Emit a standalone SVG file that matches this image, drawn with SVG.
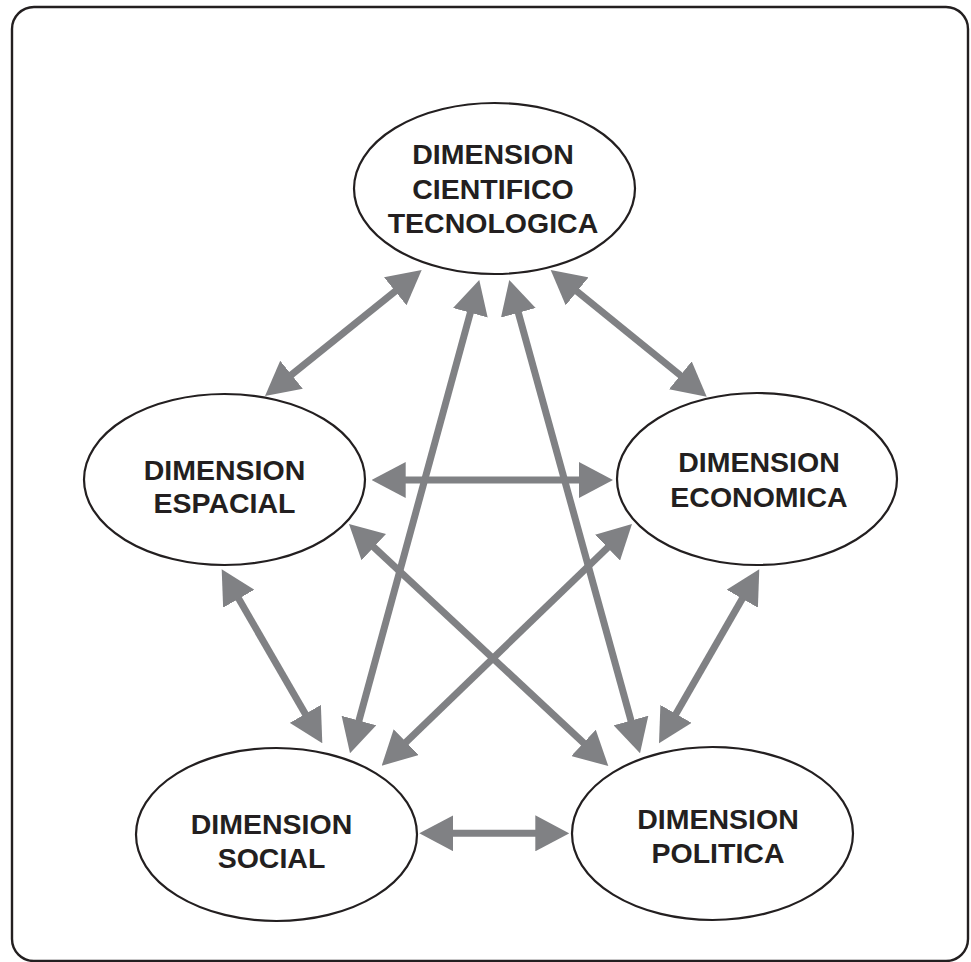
<svg xmlns="http://www.w3.org/2000/svg" width="971" height="962" viewBox="0 0 971 962">
<style>
.node ellipse{fill:#fff;stroke:#231f20;stroke-width:2.2}
.node text{font-family:"Liberation Sans",Arial,sans-serif;font-weight:bold;font-size:28.5px;fill:#231f20;text-anchor:middle}
.conn line{stroke:#808184;stroke-width:7;marker-start:url(#ah);marker-end:url(#ah)}
</style>
<defs>
<marker id="ah" markerUnits="userSpaceOnUse" markerWidth="34" markerHeight="36" viewBox="0 0 34 36" refX="14" refY="18" orient="auto-start-reverse">
<path d="M0,0 L34,18 L0,36 Z" fill="#808184"/>
</marker>
</defs>
<rect x="12" y="7" width="956" height="954" rx="22" fill="#fff" stroke="#231f20" stroke-width="2.4"/>
<g class="conn" id="connectors">
<line x1="406.1" y1="282.5" x2="280.6" y2="383.5"/>
<line x1="566.2" y1="282.6" x2="691.2" y2="384.1"/>
<line x1="474.0" y1="299.3" x2="355.3" y2="734.0"/>
<line x1="514.6" y1="299.3" x2="634.7" y2="734.0"/>
<line x1="391.7" y1="480" x2="593" y2="480"/>
<line x1="363.6" y1="537.6" x2="593.7" y2="752.4"/>
<line x1="617.6" y1="537.9" x2="396.1" y2="751.8"/>
<line x1="231.7" y1="586.6" x2="312.3" y2="726.0"/>
<line x1="749.3" y1="586.6" x2="669.0" y2="726.0"/>
<line x1="439.3" y1="833.3" x2="549.3" y2="833.3"/>
</g>
<g class="node" id="cientifico">
<ellipse cx="494.5" cy="188.5" rx="140.5" ry="85.5"/>
<text x="493" y="164">DIMENSION</text>
<text x="493" y="198.5">CIENTIFICO</text>
<text x="493" y="233">TECNOLOGICA</text>
</g>
<g class="node" id="espacial">
<ellipse cx="224.5" cy="479.5" rx="140.5" ry="85.5"/>
<text x="224.5" y="480">DIMENSION</text>
<text x="224.5" y="513">ESPACIAL</text>
</g>
<g class="node" id="economica">
<ellipse cx="757" cy="479" rx="140" ry="86"/>
<text x="759" y="472">DIMENSION</text>
<text x="759" y="507">ECONOMICA</text>
</g>
<g class="node" id="social">
<ellipse cx="276.5" cy="834.5" rx="140.5" ry="86.5"/>
<text x="271.5" y="834">DIMENSION</text>
<text x="271.5" y="868">SOCIAL</text>
</g>
<g class="node" id="politica">
<ellipse cx="712.5" cy="833.5" rx="140.5" ry="86.5"/>
<text x="718" y="829">DIMENSION</text>
<text x="718" y="863">POLITICA</text>
</g>
</svg>
